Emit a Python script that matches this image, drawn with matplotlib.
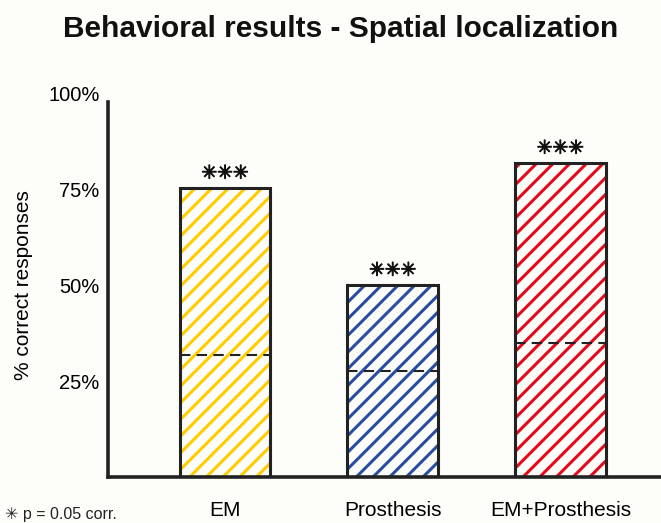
import numpy as np
import matplotlib
matplotlib.use('Agg')
import matplotlib.pyplot as plt
import matplotlib as mpl
import matplotlib.patheffects as pe

mpl.rcParams['font.family'] = ['Liberation Sans', 'DejaVu Sans']
mpl.rcParams['hatch.linewidth'] = 2.2

# data
conditions = ['EM', 'Prosthesis', 'EM+Prosthesis']
correct = [0.753, 0.50, 0.818]
chance = [0.318, 0.276, 0.349]
stars = ['✳✳✳', '✳✳✳', '✳✳✳']
colors = ['#FFCC00', '#2A4E9F', '#E30A1E']
yticks = [0.25, 0.50, 0.75, 1.00]
ytick_labels = ['25%', '50%', '75%', '100%']

bg = '#fdfdf9'
dark = '#222222'

fig = plt.figure(figsize=(6.61, 5.23), dpi=100, facecolor=bg)
ax = fig.add_axes([0.163, 0.088, 0.837, 0.734], facecolor=bg)

x = np.arange(len(conditions))
width = 0.54

# hatched fill, then the dark outline on top
ax.bar(x, correct, width, color='none', edgecolor=colors, hatch='//', linewidth=0)
ax.bar(x, correct, width, fill=False, edgecolor=dark, linewidth=2.2)

# chance level lines
for xi, c in zip(x, chance):
    ax.plot([xi - width / 2, xi + width / 2], [c, c], color=dark,
            linestyle=(0, (5, 3)), linewidth=1.5)

# significance stars
for xi, v, s in zip(x, correct, stars):
    ax.text(xi, v + 0.014, s, ha='center', va='bottom', fontsize=13.5,
            family='DejaVu Sans', fontweight='bold', color='#111111',
            path_effects=[pe.withStroke(linewidth=0.7, foreground='#111111')])

ax.set_xticks(x)
ax.set_xticklabels(conditions, fontsize=15)
ax.set_yticks(yticks)
ax.set_yticklabels(ytick_labels, fontsize=14.5)
ax.set_xlim(-0.70, 2.6)
ax.set_ylim(0, 1.0)
ax.tick_params(axis='x', length=0, pad=17)
ax.tick_params(axis='y', length=0, pad=6)
ax.set_ylabel('% correct responses', fontsize=15, labelpad=11)

for side in ['top', 'right']:
    ax.spines[side].set_visible(False)
for side in ['left', 'bottom']:
    ax.spines[side].set_linewidth(2.6)
    ax.spines[side].set_color(dark)
ax.spines['left'].set_bounds(0, 0.977)

fig.text(0.515, 0.945, 'Behavioral results - Spatial localization',
         ha='center', va='center', fontsize=21.5, fontweight='bold', color='#111111')
fig.text(0.008, 0.002, '✳ p = 0.05 corr.', ha='left', va='bottom', fontsize=11.5,
         color=dark)

fig.savefig('out.png', dpi=100, facecolor=bg)
